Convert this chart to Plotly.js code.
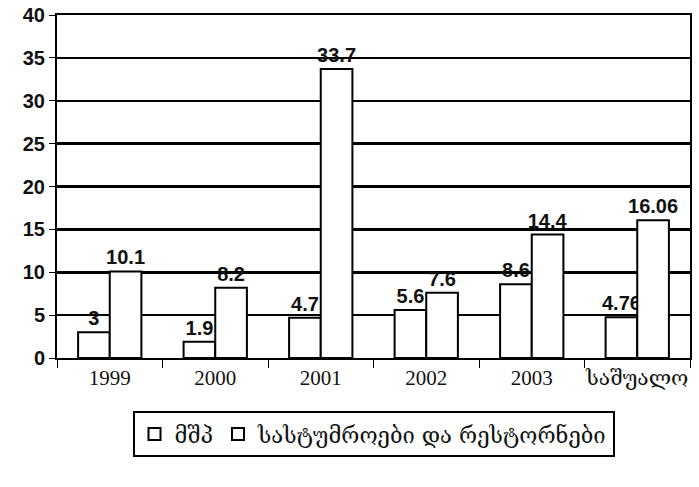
<!DOCTYPE html>
<html><head><meta charset="utf-8">
<script src="https://cdn.plot.ly/plotly-3.0.1.min.js"></script>
<style>html,body{margin:0;padding:0;background:#fff}</style>
</head><body>
<div id="chart" style="width:699px;height:487px"></div>
<script>
const categories = ["1999", "2000", "2001", "2002", "2003", "საშუალო"];
const seriesNames = ["მშპ", "სასტუმროები და რესტორნები"];
const gdp = [3, 1.9, 4.7, 5.6, 8.6, 4.76];
const hotels = [10.1, 8.2, 33.7, 7.6, 14.4, 16.06];
const yTicks = [0, 5, 10, 15, 20, 25, 30, 35, 40];

const barStyle = (fill) => ({color: fill, line: {color: "#000", width: 2}});
const labelFont = {family: "Liberation Sans, Arial, sans-serif", size: 20, color: "#111", weight: "bold"};

const traces = [
  {type: "bar", name: seriesNames[0], x: categories, y: gdp, text: gdp.map(String),
   textposition: "outside", textfont: labelFont, cliponaxis: false, constraintext: "none",
   marker: barStyle("#fff")},
  {type: "bar", name: seriesNames[1], x: categories, y: hotels, text: hotels.map(String),
   textposition: "outside", textfont: labelFont, cliponaxis: false, constraintext: "none",
   marker: barStyle("#fff")}
];

const layout = {
  width: 699, height: 487,
  margin: {l: 57, r: 9, t: 15, b: 129},
  paper_bgcolor: "#fff", plot_bgcolor: "#fff",
  barmode: "group", bargap: 0.4, bargroupgap: 0,
  showlegend: true,
  legend: {orientation: "h", x: 0.5, xanchor: "center", y: -0.155, yanchor: "top",
    bordercolor: "#000", borderwidth: 2, font: {family: "DejaVu Serif, serif", size: 22, color: "#111"},
    itemwidth: 30, tracegroupgap: 0},
  xaxis: {type: "category", showgrid: false, showline: true, linecolor: "#000", linewidth: 2,
    mirror: true, ticks: "outside", tickcolor: "#000", ticklen: 8, tickson: "boundaries",
    tickangle: 0, automargin: false,
    tickfont: {family: "Liberation Serif, DejaVu Serif, serif", size: 21, color: "#111"}},
  yaxis: {range: [0, 40], tickvals: yTicks, showgrid: true, gridcolor: "#000", gridwidth: 2.5,
    showline: true, linecolor: "#000", linewidth: 2, mirror: true, ticks: "outside", ticklen: 6,
    tickcolor: "#000", zeroline: false,
    tickfont: {family: "Liberation Sans, Arial, sans-serif", size: 20, color: "#111", weight: "bold"}}
};

Plotly.newPlot("chart", traces, layout, {displayModeBar: false, staticPlot: true});
</script>
</body></html>
